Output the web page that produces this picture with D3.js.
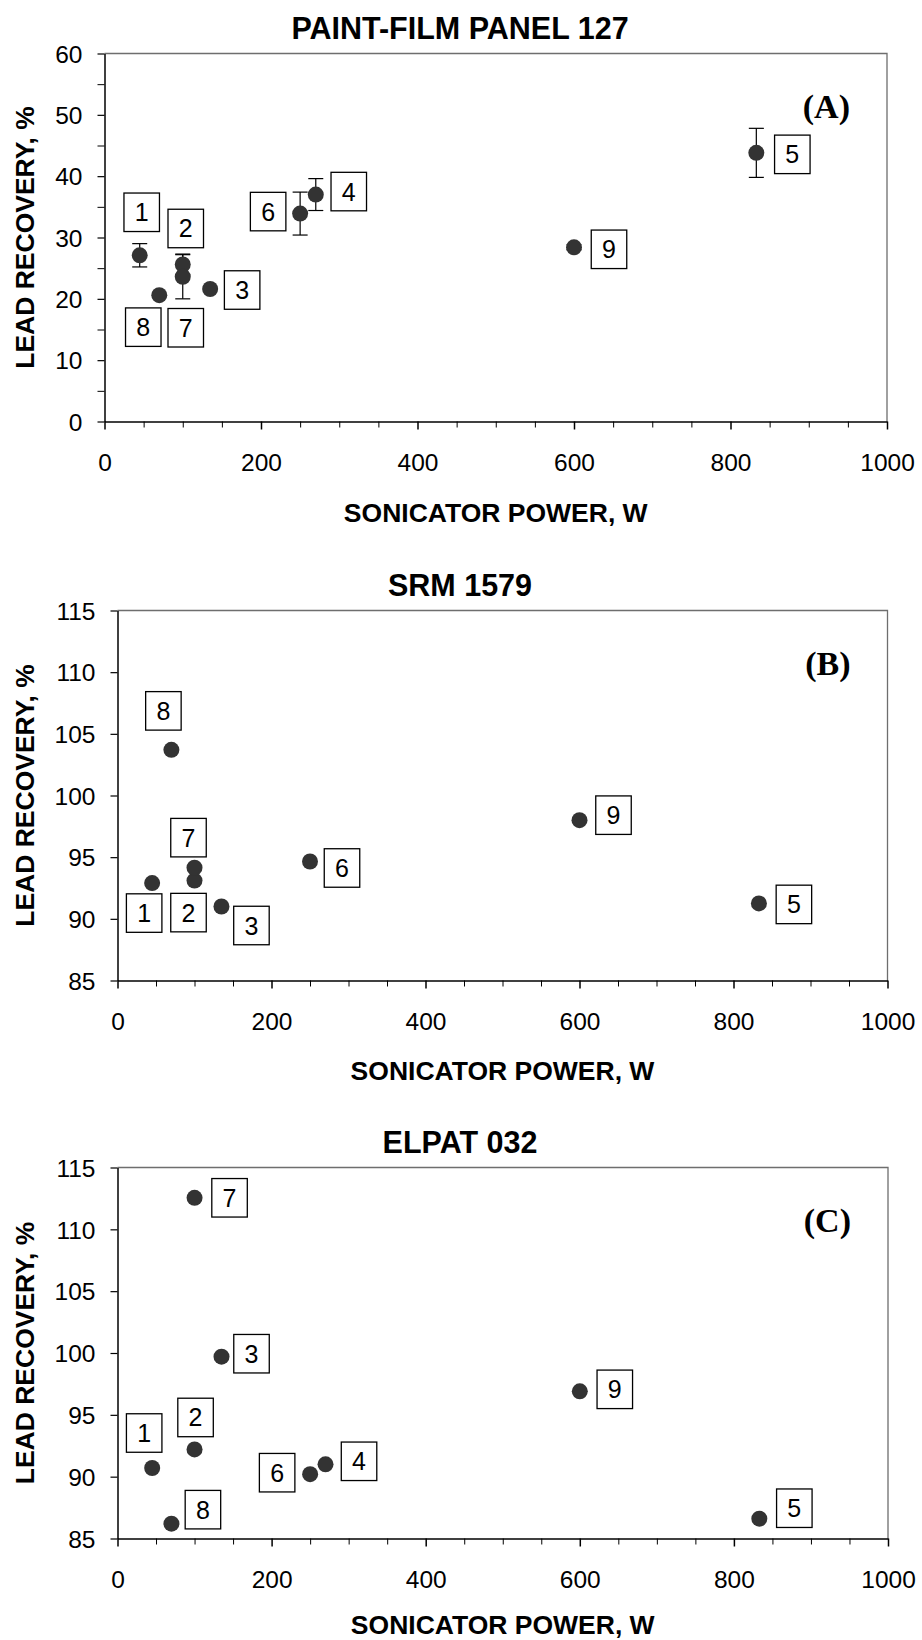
<!DOCTYPE html>
<html>
<head>
<meta charset="utf-8">
<script src="https://cdn.jsdelivr.net/npm/d3@7"></script>
<style>
  html, body { margin: 0; padding: 0; background: #fff; }
  svg { display: block; }
</style>
</head>
<body>
<svg id="chart" width="922" height="1640"></svg>
<script>
// Lead recovery versus sonicator power for three lead-bearing reference materials.
// Numbered conditions 1-9 share the same sonicator power settings.
const conditions = ["1", "2", "3", "4", "5", "6", "7", "8", "9"];
const powerW     = [45, 100, 135, 270, 833, 250, 100, 70, 600];

// Panel A: paint-film panel 127 (mean recovery and ± error)
const recoveryPaint = [27.1, 25.6, 21.6, 37.0, 43.8, 33.9, 23.6, 20.6, 28.4];
const errorPaint    = [1.9, 1.7, null, 2.6, 4.0, 3.5, 3.6, null, 0.4];

// Panel B: SRM 1579 (condition 4 not run)
const recoverySRM   = [92.9, 93.1, 91.0, null, 91.25, 94.65, 94.15, 103.7, 98.0];

// Panel C: ELPAT 032
const recoveryELPAT = [90.7, 92.2, 99.7, 91.0, 86.6, 90.2, 112.55, 86.2, 96.9];

const panelTitles = ["PAINT-FILM PANEL 127", "SRM 1579", "ELPAT 032"];
const panelTags   = ["(A)", "(B)", "(C)"];
const xTitle = "SONICATOR POWER, W";
const yTitle = "LEAD RECOVERY, %";

const xTicks      = [0, 200, 400, 600, 800, 1000];
const xMinorTicks = [50, 100, 150, 250, 300, 350, 450, 500, 550, 650, 700, 750, 850, 900, 950];
const yTicksPaint = [0, 10, 20, 30, 40, 50, 60];
const yMinorPaint = [5, 15, 25, 35, 45, 55];
const yTicksRef   = [85, 90, 95, 100, 105, 110, 115];

// ---- layout -------------------------------------------------------------
const frames = [
  { left: 104.5, right: 887,   top: 53.5,   bottom: 421.5,  xTitleGap: 100 },
  { left: 117.5, right: 887.5, top: 610.5,  bottom: 980.5,  xTitleGap: 99 },
  { left: 117.5, right: 888,   top: 1167.5, bottom: 1538.5, xTitleGap: 95.5 }
];

// pixel offsets of each numbered tag from its marker
const tagOffsets = [
  [[2, -43], [3, -36], [32, 1], [33, -3], [36, 1.5], [-32, -2], [3, 51], [-16, 32], [35, 2]],
  [[-8, 30], [-6, 32], [30, 19], null, [35, 1], [32, 6.5], [-6, -30], [-8, -39], [34, -5]],
  [[-8, -35], [1, -32], [30, -3], [33.5, -3], [35, -10.5], [-33, -1.5], [35, 0], [31.5, -14], [35, -2]]
];

const SANS = "'Liberation Sans', Arial, Helvetica, sans-serif";
const SERIF = "'Liberation Serif', 'Times New Roman', serif";

const panels = [
  { values: recoveryPaint, errors: errorPaint, yDomain: [0, 60],   yTicks: yTicksPaint, yMinor: yMinorPaint },
  { values: recoverySRM,   errors: null,       yDomain: [85, 115], yTicks: yTicksRef,   yMinor: [] },
  { values: recoveryELPAT, errors: null,       yDomain: [85, 115], yTicks: yTicksRef,   yMinor: [] }
];

const svg = d3.select("#chart");

panels.forEach((panel, i) => {
  const f = frames[i];
  const x = d3.scaleLinear().domain([0, 1000]).range([f.left, f.right]);
  const y = d3.scaleLinear().domain(panel.yDomain).range([f.bottom, f.top]);
  const g = svg.append("g");

  // title
  g.append("text")
    .attr("x", 460).attr("y", f.top - 15)
    .attr("text-anchor", "middle")
    .style("font-family", SANS).style("font-weight", "bold").style("font-size", "30.5px")
    .text(panelTitles[i]);

  // grey top/right frame
  g.append("path")
    .attr("d", `M${f.left},${f.top}H${f.right}V${f.bottom}`)
    .attr("fill", "none").attr("stroke", "#6e6e6e").attr("stroke-width", 1.3);

  // minor x ticks
  g.append("g")
    .attr("transform", `translate(0,${f.bottom})`)
    .call(d3.axisBottom(x).tickValues(xMinorTicks).tickSize(6).tickSizeOuter(0).tickFormat(""))
    .call(a => a.select(".domain").remove())
    .call(a => a.selectAll("line").attr("stroke", "#000").attr("stroke-width", 1));

  // major x axis
  g.append("g")
    .attr("transform", `translate(0,${f.bottom})`)
    .call(d3.axisBottom(x).tickValues(xTicks).tickSize(8).tickSizeOuter(0).tickPadding(24).tickFormat(d3.format("d")))
    .call(a => a.select(".domain").attr("stroke", "#000").attr("stroke-width", 1.5))
    .call(a => a.selectAll("line").attr("stroke", "#000").attr("stroke-width", 1.5))
    .call(a => a.selectAll("text").attr("fill", "#000")
      .style("font-family", SANS).style("font-size", "24.5px"));

  // minor y ticks
  if (panel.yMinor.length) {
    g.append("g")
      .attr("transform", `translate(${f.left},0)`)
      .call(d3.axisLeft(y).tickValues(panel.yMinor).tickSize(7).tickSizeOuter(0).tickFormat(""))
      .call(a => a.select(".domain").remove())
      .call(a => a.selectAll("line").attr("stroke", "#000").attr("stroke-width", 1));
  }

  // major y axis
  g.append("g")
    .attr("transform", `translate(${f.left},0)`)
    .call(d3.axisLeft(y).tickValues(panel.yTicks).tickSize(7).tickSizeOuter(0).tickPadding(15).tickFormat(d3.format("d")))
    .call(a => a.select(".domain").attr("stroke", "#000").attr("stroke-width", 1.5))
    .call(a => a.selectAll("line").attr("stroke", "#000").attr("stroke-width", 1.2))
    .call(a => a.selectAll("text").attr("fill", "#000").attr("dy", "0.36em")
      .style("font-family", SANS).style("font-size", "24.5px"));

  // axis titles
  g.append("text")
    .attr("x", (f.left + f.right) / 2).attr("y", f.bottom + f.xTitleGap)
    .attr("text-anchor", "middle")
    .style("font-family", SANS).style("font-weight", "bold").style("font-size", "26.5px")
    .text(xTitle);

  g.append("text")
    .attr("transform", `translate(33.5,${(f.top + f.bottom) / 2}) rotate(-90)`)
    .attr("text-anchor", "middle")
    .style("font-family", SANS).style("font-weight", "bold").style("font-size", "26.5px")
    .text(yTitle);

  // panel tag
  g.append("text")
    .attr("x", f.right - 37).attr("y", f.top + 64)
    .attr("text-anchor", "end")
    .style("font-family", SERIF).style("font-weight", "bold").style("font-size", "34px")
    .text(panelTags[i]);

  const pts = conditions.map((c, k) => ({
    id: c, power: powerW[k], value: panel.values[k],
    err: panel.errors ? panel.errors[k] : null, off: tagOffsets[i][k]
  })).filter(d => d.value != null);

  // error bars
  const eb = g.append("g").attr("stroke", "#000").attr("stroke-width", 1.2);
  pts.filter(d => d.err != null).forEach(d => {
    const cx = x(d.power), y0 = y(d.value - d.err), y1 = y(d.value + d.err);
    eb.append("line").attr("x1", cx).attr("x2", cx).attr("y1", y0).attr("y2", y1);
    eb.append("line").attr("x1", cx - 7.5).attr("x2", cx + 7.5).attr("y1", y0).attr("y2", y0);
    eb.append("line").attr("x1", cx - 7.5).attr("x2", cx + 7.5).attr("y1", y1).attr("y2", y1);
  });

  // markers
  g.append("g").selectAll("circle").data(pts).join("circle")
    .attr("cx", d => x(d.power)).attr("cy", d => y(d.value))
    .attr("r", 8).attr("fill", "#333");

  // numbered tags
  const tags = g.append("g").selectAll("g").data(pts).join("g")
    .attr("transform", d => `translate(${x(d.power) + d.off[0]},${y(d.value) + d.off[1]})`);
  tags.append("rect")
    .attr("x", -17.75).attr("y", -19.25).attr("width", 35.5).attr("height", 38.5)
    .attr("fill", "#fff").attr("stroke", "#000").attr("stroke-width", 1.3);
  tags.append("text")
    .attr("text-anchor", "middle").attr("y", 9)
    .style("font-family", SANS).style("font-size", "25px")
    .text(d => d.id);
});
</script>
</body>
</html>
